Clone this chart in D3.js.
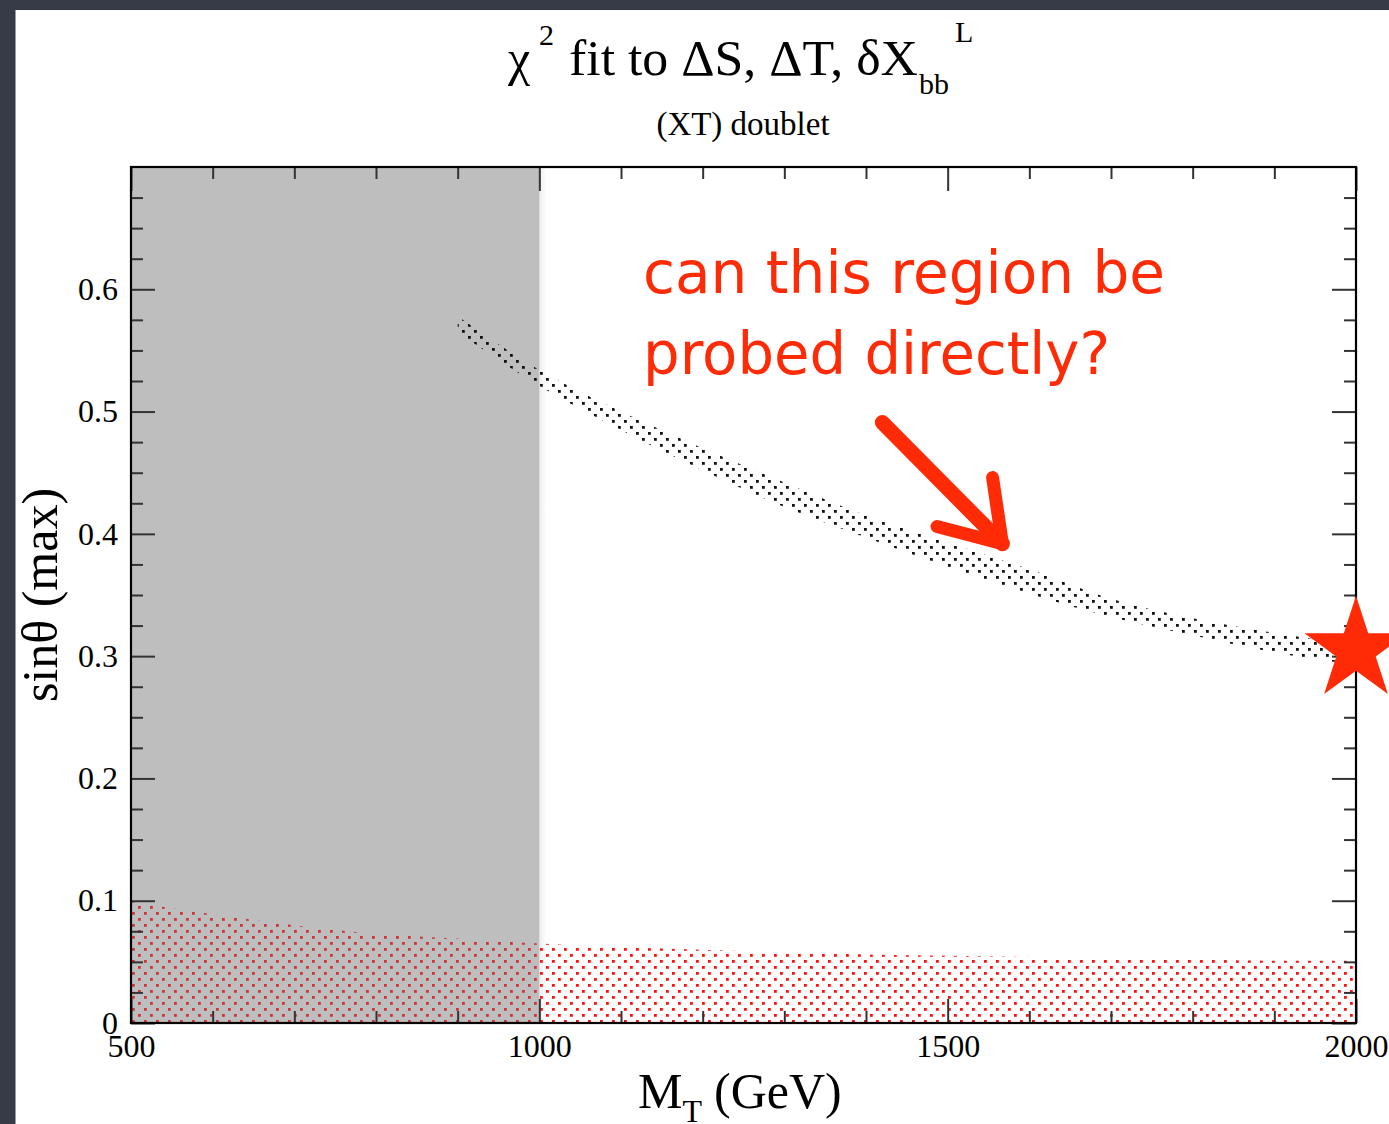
<!DOCTYPE html>
<html>
<head>
<meta charset="utf-8">
<script src="https://cdn.jsdelivr.net/npm/d3@7"></script>
<style>
  body { margin: 0; background: #373a47; }
  svg { display: block; }
</style>
</head>
<body>
<div id="chart"></div>
<script>
const W = 1389;
const H = 1124;

// upper band (black dots): sinθ(max) vs M_T
const bandMass = [900, 1000, 1100, 1200, 1300, 1400, 1500, 1600, 1700, 1800, 1900, 2000];
const bandHigh = [0.578, 0.534, 0.500, 0.470, 0.442, 0.415, 0.393, 0.371, 0.347, 0.331, 0.319, 0.309];
const bandLow = [0.565, 0.521, 0.485, 0.452, 0.422, 0.397, 0.373, 0.351, 0.332, 0.317, 0.303, 0.293];

// lower band (red dots), from 0 to this value
const redMass = [500, 600, 700, 800, 900, 1000, 1100, 1200, 1300, 1400, 1500, 1600, 1700, 1800, 1900, 2000];
const redHigh = [0.099, 0.089, 0.080, 0.073, 0.069, 0.065, 0.062, 0.060, 0.058, 0.056, 0.055, 0.054, 0.053, 0.052, 0.051, 0.051];

const excludedMax = 1000; // grey region 500..1000
const starPoint = [2000, 0.305];

const xMajor = [500, 1000, 1500, 2000];
const xMinor = d3.range(600, 2000, 100).filter(d => d % 500 != 0);
const yMajor = [0, 0.1, 0.2, 0.3, 0.4, 0.5, 0.6];
const yMinor = d3.range(0.025, 0.7, 0.025).filter(d => Math.abs(d * 10 - Math.round(d * 10)) > 0.01);

const red = "#ff2b06";

let x = d3.scaleLinear().domain([500, 2000]).range([131, 1356]);
let y = d3.scaleLinear().domain([0, 0.7]).range([1023, 167]);

let svg = d3.select("#chart").append("svg").attr("width", W).attr("height", H);

// dark frame + white page
svg.append("rect").attr("width", W).attr("height", H).attr("fill", "#373a47");
svg.append("rect").attr("x", 15).attr("y", 10).attr("width", W).attr("height", H).attr("fill", "#fff");
svg.append("line").attr("x1", 15.5).attr("x2", 15.5).attr("y1", 10).attr("y2", H)
  .attr("stroke", "#9a9ca4").attr("stroke-width", 1);

let defs = svg.append("defs");
let addDots = (id, color) => {
  let p = defs.append("pattern").attr("id", id).attr("patternUnits", "userSpaceOnUse")
    .attr("width", 12).attr("height", 12);
  p.append("rect").attr("x", 0).attr("y", 0).attr("width", 2.8).attr("height", 2.8).attr("fill", color);
  p.append("rect").attr("x", 6).attr("y", 6).attr("width", 2.8).attr("height", 2.8).attr("fill", color);
};
addDots("dotsBlack", "#111");
addDots("dotsRed", "#ff1010");
addDots("dotsRedGrey", "#cc3539");

let grad = defs.append("linearGradient").attr("id", "edge");
grad.append("stop").attr("offset", "0%").attr("stop-color", "#000").attr("stop-opacity", 0.07);
grad.append("stop").attr("offset", "100%").attr("stop-color", "#000").attr("stop-opacity", 0);

defs.append("clipPath").attr("id", "inGrey").append("rect")
  .attr("x", x(500)).attr("y", y(0.7)).attr("width", x(excludedMax) - x(500)).attr("height", y(0) - y(0.7));
defs.append("clipPath").attr("id", "outGrey").append("rect")
  .attr("x", x(excludedMax)).attr("y", y(0.7)).attr("width", x(2000) - x(excludedMax)).attr("height", y(0) - y(0.7));

// excluded grey region
svg.append("rect")
  .attr("x", x(500)).attr("y", y(0.7))
  .attr("width", x(excludedMax) - x(500)).attr("height", y(0) - y(0.7))
  .attr("fill", "#bebebe");
svg.append("rect")
  .attr("x", x(excludedMax)).attr("y", y(0.7)).attr("width", 7).attr("height", y(0) - y(0.7))
  .attr("fill", "url(#edge)");

// red band
let redData = redMass.map((m, i) => ({ m, v: redHigh[i] }));
let redArea = d3.area().x(d => x(d.m)).y0(y(0)).y1(d => y(d.v)).curve(d3.curveMonotoneX);
svg.append("path").datum(redData).attr("d", redArea).attr("fill", "url(#dotsRedGrey)").attr("clip-path", "url(#inGrey)");
svg.append("path").datum(redData).attr("d", redArea).attr("fill", "url(#dotsRed)").attr("clip-path", "url(#outGrey)");

// black band
let bandData = bandMass.map((m, i) => ({ m, lo: bandLow[i], hi: bandHigh[i] }));
svg.append("path").datum(bandData)
  .attr("d", d3.area().x(d => x(d.m)).y0(d => y(d.lo)).y1(d => y(d.hi)).curve(d3.curveMonotoneX))
  .attr("fill", "url(#dotsBlack)");

// axes, ticks pointing inward on all four sides
let drawAxis = (axis, transform, labels) => {
  let g = svg.append("g").attr("transform", transform).call(axis);
  g.select(".domain").remove();
  g.selectAll(".tick line").attr("stroke", "#333").attr("stroke-width", 2);
  g.selectAll("text").attr("font-family", "Liberation Serif").attr("font-size", 32).attr("fill", "#000");
  if (!labels) g.selectAll("text").remove();
  return g;
};
let fmtY = d => (d == 0 ? "0" : d3.format(".1f")(d));

drawAxis(d3.axisBottom(x).tickValues(xMajor).tickFormat(d3.format("d")).tickSize(-24).tickPadding(11), `translate(0,${y(0)})`, true);
drawAxis(d3.axisBottom(x).tickValues(xMinor).tickSize(-12), `translate(0,${y(0)})`, false);
drawAxis(d3.axisTop(x).tickValues(xMajor).tickSize(-24), `translate(0,${y(0.7)})`, false);
drawAxis(d3.axisTop(x).tickValues(xMinor).tickSize(-12), `translate(0,${y(0.7)})`, false);
drawAxis(d3.axisLeft(y).tickValues(yMajor).tickFormat(fmtY).tickSize(-24).tickPadding(13), `translate(${x(500)},0)`, true);
drawAxis(d3.axisLeft(y).tickValues(yMinor).tickSize(-12), `translate(${x(500)},0)`, false);
drawAxis(d3.axisRight(y).tickValues(yMajor).tickSize(-24), `translate(${x(2000)},0)`, false);
drawAxis(d3.axisRight(y).tickValues(yMinor).tickSize(-12), `translate(${x(2000)},0)`, false);

svg.append("rect")
  .attr("x", x(500)).attr("y", y(0.7))
  .attr("width", x(2000) - x(500)).attr("height", y(0) - y(0.7))
  .attr("fill", "none").attr("stroke", "#000").attr("stroke-width", 2.2);

// star at the end of the band
let star = d3.symbol().type(d3.symbolStar).size(3300);
svg.append("path").attr("d", star)
  .attr("transform", `translate(${x(starPoint[0])},${y(starPoint[1])})`)
  .attr("fill", red);

// titles
let serif = "Liberation Serif";
let title = svg.append("text").attr("font-family", serif).attr("fill", "#000");
title.append("tspan").attr("x", 508).attr("y", 75).attr("font-size", 50).text("χ");
title.append("tspan").attr("x", 539).attr("y", 45).attr("font-size", 30).text("2");
title.append("tspan").attr("x", 569).attr("y", 75).attr("font-size", 50)
  .attr("textLength", 349).attr("lengthAdjust", "spacingAndGlyphs").text("fit to ΔS, ΔT, δX");
title.append("tspan").attr("x", 919).attr("y", 94).attr("font-size", 30).text("bb");
title.append("tspan").attr("x", 955).attr("y", 42).attr("font-size", 30).text("L");

svg.append("text").attr("x", 743).attr("y", 135).attr("text-anchor", "middle")
  .attr("font-family", serif).attr("font-size", 33).text("(XT) doublet");

// axis titles
let xl = svg.append("text").attr("y", 1108).attr("font-family", serif).attr("font-size", 50);
xl.append("tspan").attr("x", 638).text("M");
xl.append("tspan").attr("font-size", 32).attr("dy", 14).text("T");
xl.append("tspan").attr("dy", -14).attr("dx", 12).text("(GeV)");

svg.append("text")
  .attr("transform", "translate(57,595) rotate(-90)")
  .attr("text-anchor", "middle")
  .attr("font-family", serif).attr("font-size", 50)
  .text("sinθ (max)");

// hand-written note and arrow
let note = svg.append("g").attr("fill", red).attr("font-family", "DejaVu Sans").attr("font-size", 58);
note.append("text").attr("x", x(1127)).attr("y", y(0.597)).attr("textLength", 522)
  .attr("lengthAdjust", "spacingAndGlyphs").text("can this region be");
note.append("text").attr("x", x(1127)).attr("y", y(0.531)).attr("textLength", 467)
  .attr("lengthAdjust", "spacingAndGlyphs").text("probed directly?");

const arrowShaft = [[1420, 0.491], [1567, 0.392]];
const arrowHead = [[1487, 0.406], [1567, 0.392], [1555, 0.446]];
let line = d3.line().x(d => x(d[0])).y(d => y(d[1]));
svg.append("path").attr("d", line(arrowShaft)).attr("fill", "none")
  .attr("stroke", red).attr("stroke-width", 15).attr("stroke-linecap", "round");
svg.append("path").attr("d", line(arrowHead)).attr("fill", "none")
  .attr("stroke", red).attr("stroke-width", 13).attr("stroke-linecap", "round").attr("stroke-linejoin", "round");
</script>
</body>
</html>
